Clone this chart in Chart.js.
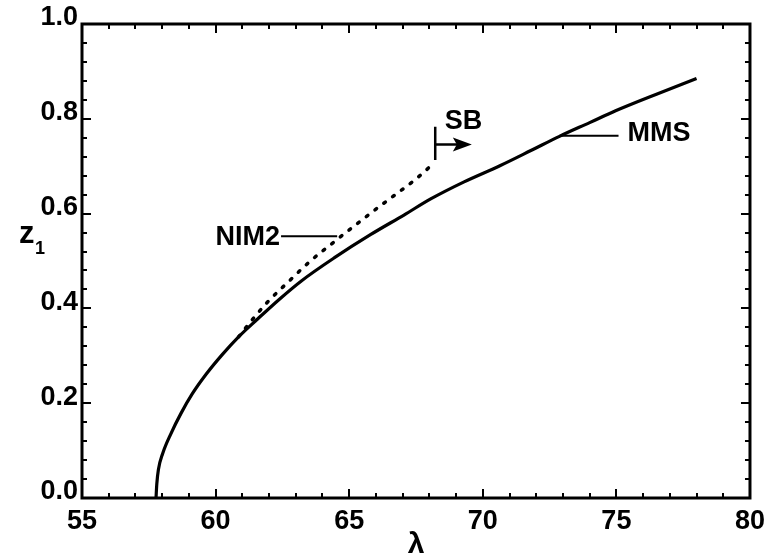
<!DOCTYPE html>
<html>
<head>
<meta charset="utf-8">
<script src="https://cdn.jsdelivr.net/npm/chart.js@4.4.1/dist/chart.umd.min.js"></script>
<style>
  html, body { margin: 0; padding: 0; background: #fff; }
  #wrap { width: 772px; height: 560px; }
</style>
</head>
<body>
<div id="wrap"><canvas id="c" width="772" height="560"></canvas></div>
<script>
// MMS branch (solid curve)
const mmsLambda = [57.77, 57.80, 57.86, 58.02, 58.33, 58.70, 59.13, 59.63, 60.24, 60.86, 61.54, 62.40, 63.21, 64.45, 65.81, 67.05, 68.05, 69.30, 70.64, 71.80, 72.87, 74.00, 74.97, 76.50, 78.00];
const mmsZ      = [0.000, 0.030, 0.060, 0.094, 0.136, 0.178, 0.220, 0.260, 0.302, 0.340, 0.376, 0.420, 0.458, 0.507, 0.556, 0.597, 0.631, 0.667, 0.701, 0.733, 0.763, 0.792, 0.817, 0.852, 0.885];

// NIM2 branch (dotted), ending at the SB point
const nimLambda = [60.86, 61.40, 61.92, 62.72, 63.53, 64.45, 65.26, 66.06, 66.80, 67.50, 68.10];
const nimZ      = [0.340, 0.378, 0.412, 0.456, 0.499, 0.541, 0.577, 0.612, 0.643, 0.673, 0.703];

// SB marker: bar and arrow
const sbLambda = 68.22;
const sbBarZ = [0.713, 0.783];
const sbArrow = { from: 68.22, to: 69.59, z: 0.746 };

// Leader lines for curve labels: [lambdaStart, lambdaEnd, z]
const nimLeader = [62.45, 64.55, 0.552];
const mmsLeader = [72.87, 75.08, 0.764];

// Axis ticks
const xMajorStep = 5, xMinorStep = 1;
const yMajorStep = 0.2, yMinorStep = 0.04;

const toPts = (xs, ys) => xs.map((x, i) => ({ x, y: ys[i] }));

const FONT = "'Liberation Sans', Arial, Helvetica, sans-serif";

const framePlugin = {
  id: 'frame',
  afterDatasetsDraw(chart) {
    const { ctx, chartArea: a, scales: { x, y } } = chart;
    ctx.save();
    ctx.strokeStyle = '#000';
    ctx.fillStyle = '#000';

    // inward tick marks on all four sides
    ctx.lineWidth = 2;
    ctx.beginPath();
    for (let v = x.min; v <= x.max + 1e-9; v += xMinorStep) {
      const px = Math.round(x.getPixelForValue(v));
      const major = Math.abs(v / xMajorStep - Math.round(v / xMajorStep)) < 1e-6;
      const len = major ? 9 : 5;
      ctx.moveTo(px, a.bottom); ctx.lineTo(px, a.bottom - len);
      ctx.moveTo(px, a.top); ctx.lineTo(px, a.top + len);
    }
    for (let v = y.min; v <= y.max + 1e-9; v += yMinorStep) {
      const py = Math.round(y.getPixelForValue(v));
      const major = Math.abs(v / yMajorStep - Math.round(v / yMajorStep)) < 1e-6;
      const len = major ? 9 : 5;
      ctx.moveTo(a.left, py); ctx.lineTo(a.left + len, py);
      ctx.moveTo(a.right, py); ctx.lineTo(a.right - len, py);
    }
    ctx.stroke();

    // frame
    ctx.lineWidth = 3;
    ctx.strokeRect(a.left, a.top, a.right - a.left, a.bottom - a.top);

    // SB bar and arrow
    ctx.lineWidth = 2.5;
    const bx = x.getPixelForValue(sbLambda);
    ctx.beginPath();
    ctx.moveTo(bx, y.getPixelForValue(sbBarZ[0]));
    ctx.lineTo(bx, y.getPixelForValue(sbBarZ[1]));
    const ay = y.getPixelForValue(sbArrow.z);
    const ax0 = x.getPixelForValue(sbArrow.from), ax1 = x.getPixelForValue(sbArrow.to);
    ctx.moveTo(ax0, ay); ctx.lineTo(ax1 - 12, ay);
    ctx.stroke();
    ctx.beginPath();
    ctx.moveTo(ax1, ay);
    ctx.lineTo(ax1 - 19, ay - 7);
    ctx.lineTo(ax1 - 15, ay);
    ctx.lineTo(ax1 - 19, ay + 7);
    ctx.closePath();
    ctx.fill();

    // leader lines
    ctx.lineWidth = 2;
    ctx.beginPath();
    [nimLeader, mmsLeader].forEach(([l0, l1, z]) => {
      const py = y.getPixelForValue(z);
      ctx.moveTo(x.getPixelForValue(l0), py);
      ctx.lineTo(x.getPixelForValue(l1), py);
    });
    ctx.stroke();

    // curve labels
    ctx.font = `bold 27px ${FONT}`;
    ctx.textBaseline = 'middle';
    ctx.textAlign = 'right';
    ctx.fillText('NIM2', x.getPixelForValue(nimLeader[0]) - 1, y.getPixelForValue(nimLeader[2]) + 1);
    ctx.textAlign = 'left';
    ctx.fillText('MMS', x.getPixelForValue(mmsLeader[1]) + 9, y.getPixelForValue(mmsLeader[2]) - 2);
    ctx.textAlign = 'center';
    ctx.fillText('SB', x.getPixelForValue(69.28), y.getPixelForValue(sbBarZ[1]) - 5);

    // y-axis title: z with subscript 1
    ctx.textAlign = 'left';
    ctx.textBaseline = 'alphabetic';
    ctx.font = `bold 31px ${FONT}`;
    ctx.fillText('z', 19, 243);
    ctx.font = `bold 18px ${FONT}`;
    ctx.fillText('1', 35, 254);
    ctx.restore();
  }
};

new Chart(document.getElementById('c'), {
  type: 'scatter',
  data: {
    datasets: [
      {
        label: 'MMS',
        data: toPts(mmsLambda, mmsZ),
        showLine: true,
        borderColor: '#000',
        borderWidth: 3.2,
        pointRadius: 0,
        cubicInterpolationMode: 'monotone',
        fill: false
      },
      {
        label: 'NIM2',
        data: toPts(nimLambda, nimZ),
        showLine: true,
        borderColor: '#000',
        borderWidth: 3.5,
        borderDash: [2, 9],
        borderCapStyle: 'round',
        pointRadius: 0,
        cubicInterpolationMode: 'monotone',
        fill: false
      }
    ]
  },
  options: {
    responsive: false,
    animation: false,
    layout: { padding: { top: 24, right: 15, left: 0, bottom: 0 } },
    plugins: { legend: { display: false }, tooltip: { enabled: false } },
    scales: {
      x: {
        type: 'linear',
        min: 55, max: 80,
        afterFit: s => { s.height = 62; },
        grid: { display: false, drawTicks: false },
        border: { display: false },
        ticks: { stepSize: xMajorStep, padding: 7, color: '#000', font: { family: FONT, size: 27, weight: 'bold' } },
        title: { display: true, text: 'λ', color: '#000', padding: { top: 0, bottom: -3 }, font: { family: FONT, size: 30, weight: 'bold' } }
      },
      y: {
        type: 'linear',
        min: 0, max: 1,
        afterFit: s => { s.width = 82; },
        grid: { display: false, drawTicks: false },
        border: { display: false },
        ticks: {
          stepSize: yMajorStep, padding: 4, labelOffset: -6, color: '#000',
          font: { family: FONT, size: 27, weight: 'bold' },
          callback: v => v.toFixed(1)
        }
      }
    }
  },
  plugins: [framePlugin]
});
</script>
</body>
</html>
